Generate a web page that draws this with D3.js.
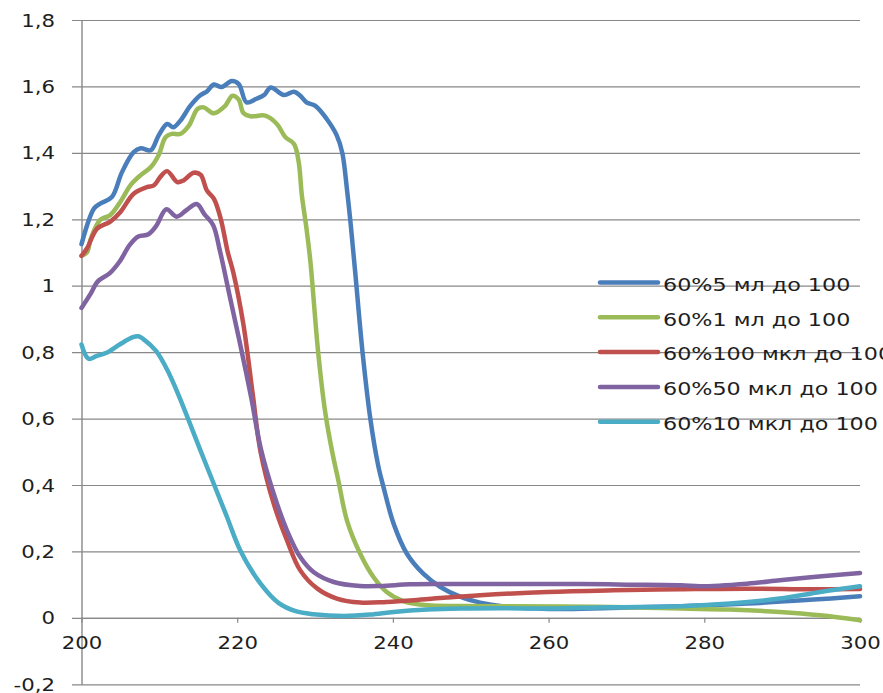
<!DOCTYPE html>
<html>
<head>
<meta charset="utf-8">
<script src="https://cdn.jsdelivr.net/npm/d3@7"></script>
<style>
  html, body { margin: 0; padding: 0; background: #fff; }
  svg { display: block; }
  text { font-family: "DejaVu Sans", Verdana, sans-serif; fill: #1e1e1e; }
</style>
</head>
<body>
<svg id="chart" width="883" height="693"></svg>
<script>
// Absorbance spectra, wavelength (nm) vs optical density
const seriesNames = [
  "60%5 мл до 100",
  "60%1 мл до 100",
  "60%100 мкл до 100",
  "60%50 мкл до 100",
  "60%10 мкл до 100"
];
const seriesColors = ["#4a7ebb", "#9bbb59", "#c0504d", "#8064a2", "#4bacc6"];

const xTicks = [200, 220, 240, 260, 280, 300];
const yTicks = [-0.2, 0, 0.2, 0.4, 0.6, 0.8, 1, 1.2, 1.4, 1.6, 1.8];

// [wavelength, absorbance]
const spec5ml = [
  [200,1.125],[201.6,1.232],[202.4,1.247],[203.9,1.267],[205.2,1.342],[206.7,1.402],
  [207.6,1.414],[208.9,1.408],[209.9,1.452],[211.0,1.487],[211.8,1.477],[212.7,1.497],
  [214.0,1.542],[215.3,1.574],[216.1,1.585],[217.0,1.606],[218.0,1.598],[219.3,1.616],
  [220.2,1.607],[221.2,1.552],[222.4,1.562],[223.5,1.575],[224.3,1.597],[226.0,1.574],
  [227.3,1.584],[228.1,1.572],[228.9,1.552],[230.0,1.542],[231.5,1.502],[232.8,1.452],
  [233.5,1.400],[234.1,1.290],[234.6,1.180],[235.2,1.030],[236.1,0.80],[237.1,0.60],
  [238.1,0.460],[238.8,0.393],[240.1,0.283],[241.8,0.193],[243.9,0.133],[246.1,0.093],
  [248.7,0.063],[251.2,0.046],[253.8,0.036],[260,0.027],[268,0.030],[277,0.035],
  [285.5,0.043],[294,0.055],[300,0.065]
];
const spec1ml = [
  [200,1.09],[200.7,1.10],[201.2,1.142],[202.4,1.198],[203.7,1.213],[205.0,1.253],
  [206.3,1.303],[207.6,1.333],[208.9,1.357],[209.9,1.393],[210.8,1.447],[211.6,1.457],
  [212.7,1.457],[213.8,1.482],[214.9,1.532],[215.7,1.537],[217.0,1.519],[218.4,1.540],
  [219.4,1.572],[220.2,1.560],[220.8,1.520],[221.7,1.510],[223.6,1.512],[225.1,1.487],
  [226.2,1.447],[227.3,1.427],[227.9,1.372],[228.3,1.273],[228.9,1.172],[229.4,1.073],
  [230.4,0.80],[231.3,0.620],[232.2,0.500],[233.0,0.413],[234.1,0.293],[235.8,0.193],
  [237.5,0.123],[239.2,0.078],[241.4,0.050],[244.4,0.038],[248.7,0.036],[255,0.035],
  [262,0.034],[270,0.032],[277,0.028],[283.3,0.025],[289.7,0.018],[294.9,0.008],[300,-0.007]
];
const spec100ul = [
  [200,1.09],[200.7,1.112],[202.0,1.172],[203.7,1.193],[205.0,1.222],[206.7,1.277],
  [208.4,1.297],[209.3,1.302],[210.1,1.327],[211.0,1.345],[212.3,1.312],[213.1,1.317],
  [214.4,1.340],[215.3,1.334],[216.1,1.287],[217.0,1.262],[217.9,1.20],[218.8,1.10],
  [219.5,1.04],[220.8,0.883],[222.0,0.673],[223.0,0.500],[224.7,0.343],[226.4,0.233],
  [228.1,0.143],[230.3,0.088],[232.8,0.058],[235.8,0.046],[239.2,0.048],[242.7,0.053],
  [246.9,0.061],[251.2,0.068],[259.8,0.078],[268.3,0.083],[276.9,0.086],[285.5,0.088],
  [294,0.086],[300,0.087]
];
const spec50ul = [
  [200,0.933],[201.1,0.973],[202.1,1.013],[203.6,1.037],[204.9,1.073],[206.2,1.123],
  [207.3,1.148],[208.6,1.155],[209.6,1.180],[210.9,1.230],[212.2,1.208],[213.5,1.228],
  [214.8,1.246],[215.8,1.215],[216.9,1.183],[217.8,1.103],[219.0,0.973],[220.3,0.833],
  [221.8,0.663],[223.0,0.513],[224.7,0.373],[226.4,0.263],[228.1,0.183],[229.8,0.138],
  [232.4,0.108],[235.8,0.096],[238.4,0.096],[242.2,0.101],[246.5,0.102],[253.8,0.102],
  [264,0.102],[270,0.100],[277,0.098],[279.5,0.095],[285.5,0.103],[289.7,0.113],
  [294,0.123],[300,0.135]
];
const spec10ul = [
  [200,0.823],[200.9,0.780],[201.9,0.788],[203.2,0.798],[204.9,0.823],[206.6,0.845],
  [207.3,0.848],[207.9,0.840],[209.6,0.803],[211.3,0.733],[212.6,0.663],[215.3,0.503],
  [217.0,0.403],[218.7,0.303],[220.4,0.203],[223.0,0.103],[225.3,0.045],[227.5,0.020],
  [229.8,0.011],[233.7,0.006],[237.1,0.010],[240.1,0.018],[244.4,0.025],[248.7,0.028],
  [254,0.029],[260,0.028],[268,0.032],[277,0.035],[283.3,0.043],[289.7,0.058],
  [294.9,0.078],[300,0.095]
];
const allSeries = [spec5ml, spec1ml, spec100ul, spec50ul, spec10ul];

const svg = d3.select("#chart");
svg.append("rect").attr("width", 883).attr("height", 693).attr("fill", "#fff");

const plotLeft = 81.5, plotRight = 860, plotTop = 20, plotBottom = 684.3;
const x = d3.scaleLinear().domain([200, 300]).range([plotLeft, plotRight]);
const y = d3.scaleLinear().domain([-0.2, 1.8]).range([plotBottom, plotTop]);
const gridColor = "#888";
const textScale = 1.25;
const fmt = d => String(+d.toFixed(1)).replace(".", ",");

// horizontal gridlines
const grid = svg.append("g").attr("transform", `translate(${plotRight},0)`)
  .call(d3.axisLeft(y).tickValues(yTicks).tickSize(plotRight - 72).tickFormat(""));
grid.select(".domain").remove();
grid.selectAll("line").attr("stroke", gridColor).attr("stroke-width", 1.2);

// value axis
const yAxis = svg.append("g").attr("transform", `translate(${plotLeft},0)`)
  .call(d3.axisLeft(y).tickValues(yTicks).tickSize(0).tickSizeOuter(0).tickFormat(fmt));
yAxis.select(".domain").attr("stroke", gridColor).attr("stroke-width", 1.4);
yAxis.selectAll("text")
  .attr("font-size", 17)
  .attr("x", -26.5 / textScale)
  .attr("dy", "0.36em")
  .attr("transform", `scale(${textScale},1)`)
  .style("fill", "#1e1e1e");

// wavelength axis on the zero line
const xAxis = svg.append("g").attr("transform", `translate(0,${y(0)})`)
  .call(d3.axisBottom(x).tickValues(xTicks).tickSize(5).tickSizeOuter(0).tickFormat(d3.format("d")));
xAxis.select(".domain").attr("stroke", gridColor).attr("stroke-width", 1.2);
xAxis.selectAll("line").attr("stroke", gridColor).attr("stroke-width", 1.2);
xAxis.selectAll("text")
  .attr("font-size", 17)
  .attr("y", 31.6)
  .attr("dy", 0)
  .attr("transform", `scale(${textScale},1)`)
  .style("fill", "#1e1e1e");
svg.selectAll("g").attr("font-family", null);

// spectra
const line = d3.line()
  .x(d => x(d[0]))
  .y(d => y(d[1]))
  .curve(d3.curveCatmullRom.alpha(0.5));

svg.append("g").selectAll("path")
  .data(allSeries)
  .join("path")
  .attr("d", line)
  .attr("fill", "none")
  .attr("stroke", (d, i) => seriesColors[i])
  .attr("stroke-width", 4.5)
  .attr("stroke-linejoin", "round")
  .attr("stroke-linecap", "round");

// legend
const legend = svg.append("g");
const legY = d3.scaleLinear().domain([0, 1]).range([282.5, 317.3]);
const items = legend.selectAll("g")
  .data(seriesNames)
  .join("g")
  .attr("transform", (d, i) => `translate(600,${legY(i)})`);
items.append("line")
  .attr("x1", 0).attr("x2", 58)
  .attr("stroke", (d, i) => seriesColors[i])
  .attr("stroke-width", 4.5)
  .attr("stroke-linecap", "round");
items.append("text")
  .attr("transform", `translate(63,8.2) scale(1.31,1)`)
  .attr("font-size", 17)
  .text(d => d);
</script>
</body>
</html>
